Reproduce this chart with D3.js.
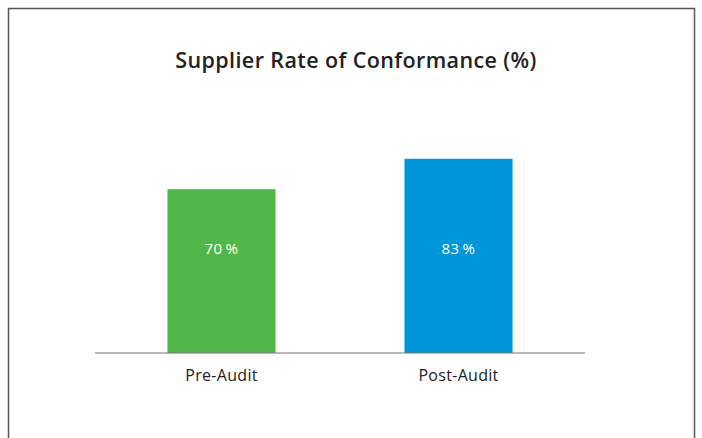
<!DOCTYPE html>
<html>
<head>
<meta charset="utf-8">
<script src="https://cdn.jsdelivr.net/npm/d3@7"></script>
<style>
  body { margin: 0; background: #fff; }
  text { font-family: "Open Sans", "Noto Sans", sans-serif; }
</style>
</head>
<body>
<svg id="chart" width="702" height="438"></svg>
<script>
var categories = ["Pre-Audit", "Post-Audit"];
var values = [70, 83];
var valueLabels = ["70\u2009%", "83\u2009%"];
var barColors = ["#4fb848", "#0096d7"];
var title = "Supplier Rate of Conformance (%)";

var svg = d3.select("#chart"),
width = +svg.attr("width"),
height = +svg.attr("height");

// outer frame
svg.append("rect")
  .attr("x", 8.5).attr("y", 8.5)
  .attr("width", 686).attr("height", 440)
  .attr("fill", "none")
  .attr("stroke", "#555")
  .attr("stroke-width", 1.5);

svg.append("text")
  .attr("x", 356).attr("y", 68)
  .attr("text-anchor", "middle")
  .attr("font-size", 21.5)
  .attr("font-weight", 600)
  .attr("letter-spacing", 0.4)
  .attr("fill", "#222")
  .text(title);

var x = d3.scaleBand()
  .domain(categories)
  .range([103, 577])
  .paddingInner(0.544)
  .paddingOuter(0.272);

var y = d3.scaleLinear()
  .domain([0, 100])
  .range([353, 119]);

svg.selectAll("rect.bar")
  .data(values)
  .enter()
  .append("rect")
  .attr("class", "bar")
  .attr("x", function(d, i){ return x(categories[i]); })
  .attr("y", function(d){ return y(d); })
  .attr("width", x.bandwidth())
  .attr("height", function(d){ return y(0) - y(d); })
  .attr("fill", function(d, i){ return barColors[i]; });

svg.selectAll("text.val")
  .data(valueLabels)
  .enter()
  .append("text")
  .attr("class", "val")
  .attr("x", function(d, i){ return x(categories[i]) + x.bandwidth() / 2; })
  .attr("y", y(44.5))
  .attr("dy", "0.35em")
  .attr("text-anchor", "middle")
  .attr("font-size", 15)
  .attr("letter-spacing", 0.5)
  .attr("fill", "#fff")
  .text(function(d){ return d; });

// baseline + category labels
var axis = d3.axisBottom(x).tickSize(0).tickPadding(17);
var g = svg.append("g")
  .attr("transform", "translate(0," + y(0) + ")")
  .call(axis);
g.select(".domain").remove();
g.append("line")
  .attr("x1", 95).attr("x2", 585)
  .attr("stroke", "#777")
  .attr("stroke-width", 1.2);
g.selectAll(".tick text")
  .attr("font-size", 16)
  .attr("letter-spacing", 0.3)
  .attr("font-family", "\"Open Sans\", \"Noto Sans\", sans-serif")
  .attr("fill", "#222");
</script>
</body>
</html>
